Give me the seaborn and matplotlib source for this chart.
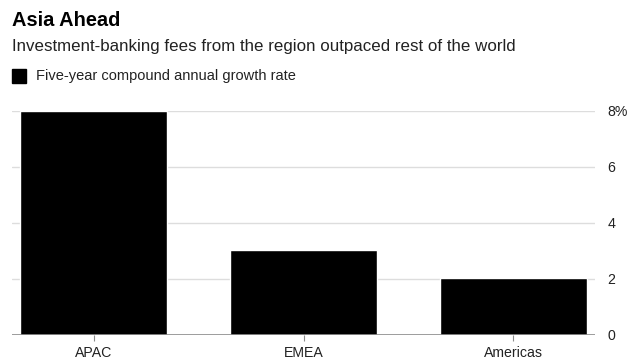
import numpy as np
import pandas as pd
import matplotlib
matplotlib.use('Agg')
import matplotlib.pyplot as plt
import seaborn as sns

# data
regions = ['APAC', 'EMEA', 'Americas']
cagr = [8.0, 3.05, 2.05]
yticks = [0, 2, 4, 6, 8]
ytick_labels = ['0', '2', '4', '6', '8%']

sns.set_style('white')
plt.rcParams['font.family'] = ['Liberation Sans', 'DejaVu Sans']

W, H = 627, 364
fig = plt.figure(figsize=(W / 100, H / 100), dpi=100)
ax = fig.add_axes([12 / W, 1 - 335 / H, (595 - 12) / W, (335 - 111) / H])

df = pd.DataFrame({'region': regions, 'cagr': cagr})
sns.barplot(data=df, x='region', y='cagr', color='black', width=0.7,
            saturation=1, ax=ax, zorder=3)

ax.set_ylim(0, 8)
ax.set_xlim(-0.39, 2.39)
ax.set_yticks(yticks)
ax.set_yticklabels(ytick_labels)
ax.yaxis.tick_right()
ax.set_xlabel('')
ax.set_ylabel('')
for s in ax.spines.values():
    s.set_visible(False)

ax.grid(axis='y', color='#dddddd', linewidth=1, zorder=0)
ax.grid(axis='x', visible=False)
ax.axhline(0, color='#8c8c8c', linewidth=1.2, zorder=4)

ax.tick_params(axis='y', length=0, pad=9, labelsize=10.2, labelcolor='#222222')
ax.tick_params(axis='x', length=4, width=0.8, color='#8c8c8c', pad=4,
               labelsize=10.2, labelcolor='#222222', bottom=True)

fig.text(12 / W, 1 - 20 / H, 'Asia Ahead', fontsize=14.4, fontweight='bold',
         va='center', ha='left', color='black')
fig.text(12 / W, 1 - 46 / H,
         'Investment-banking fees from the region outpaced rest of the world',
         fontsize=12.2, va='center', ha='left', color='#222222')
fig.patches.append(plt.Rectangle((12 / W, 1 - 83 / H), 14 / W, 14 / H,
                                 transform=fig.transFigure, color='black'))
fig.text(36 / W, 1 - 76 / H, 'Five-year compound annual growth rate',
         fontsize=10.5, va='center', ha='left', color='#222222')

fig.savefig('out.png', dpi=100)
